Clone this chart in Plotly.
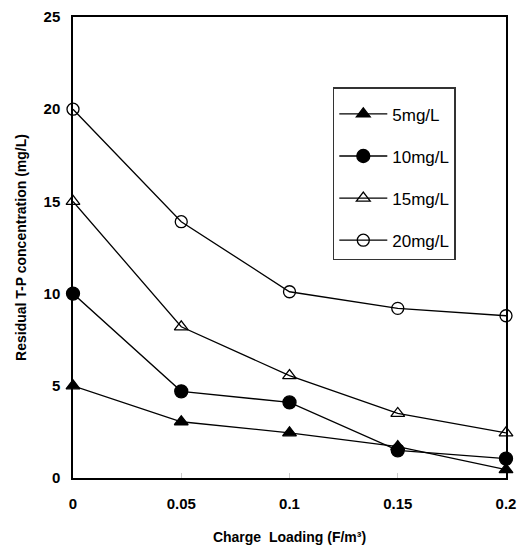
import plotly.graph_objects as go

x_vals = [0, 0.05, 0.1, 0.15, 0.2]
s5 = [5.0, 3.05, 2.45, 1.7, 0.45]
s10 = [10.0, 4.7, 4.1, 1.5, 1.05]
s15 = [15.0, 8.2, 5.55, 3.5, 2.45]
s20 = [20.0, 13.9, 10.1, 9.2, 8.8]
names = ["5mg/L", "10mg/L", "15mg/L", "20mg/L"]
symbols = ["triangle-up", "circle", "triangle-up-open", "circle-open"]
sizes = [12, 13, 12, 12]
x_ticks = [0, 0.05, 0.1, 0.15, 0.2]
x_tick_text = ["0", "0.05", "0.1", "0.15", "0.2"]
y_ticks = [0, 5, 10, 15, 20, 25]

fig = go.Figure()
for i, (nm, ys) in enumerate(zip(names, [s5, s10, s15, s20])):
    fig.add_trace(go.Scatter(
        x=x_vals, y=ys, name=nm, mode="lines+markers", legendgroup=nm,
        line=dict(color="black", width=1.3),
        marker=dict(symbol=symbols[i], size=sizes[i], color="black",
                    line=dict(color="black", width=1.3)),
        cliponaxis=False,
    ))

fig.update_layout(
    width=517, height=542,
    margin=dict(l=65, r=19, t=9, b=72),
    paper_bgcolor="white", plot_bgcolor="white",
    font=dict(family="Liberation Sans, Arial", color="black"),
    showlegend=True,
    legend=dict(
        x=0.60, y=0.848, xanchor="left", yanchor="top",
        bordercolor="#333", borderwidth=1.5, bgcolor="white",
        font=dict(size=17, family="Liberation Sans, Arial"),
        title=dict(text=" ", font=dict(size=6)),
        tracegroupgap=17,
        itemwidth=48,
        entrywidth=140, entrywidthmode="pixels",
    ),
    xaxis=dict(
        range=[0, 0.2], tickvals=x_ticks, ticktext=x_tick_text, automargin=False,
        showgrid=False, zeroline=False, showline=True, linecolor="black", linewidth=1.5,
        mirror=True, ticks="inside", ticklen=5, tickcolor="#ccc",
        ticklabelstandoff=11, ticklabeloverflow="allow",
        tickfont=dict(size=15, family="Liberation Sans, Arial", weight="bold"),
        title=dict(text="Charge  Loading (F/m\u00b3)", font=dict(size=14, weight="bold"), standoff=21),
    ),
    yaxis=dict(
        range=[0, 25], tickvals=y_ticks, automargin=False,
        showgrid=False, zeroline=False, showline=True, linecolor="black", linewidth=1.5,
        mirror=True, ticks="",
        ticklabelstandoff=8, ticklabeloverflow="allow",
        tickfont=dict(size=15, family="Liberation Sans, Arial", weight="bold"),
        title=dict(text="Residual T-P concentration (mg/L)", font=dict(size=14, weight="bold"), standoff=14),
    ),
)
fig.write_html("out.html")
